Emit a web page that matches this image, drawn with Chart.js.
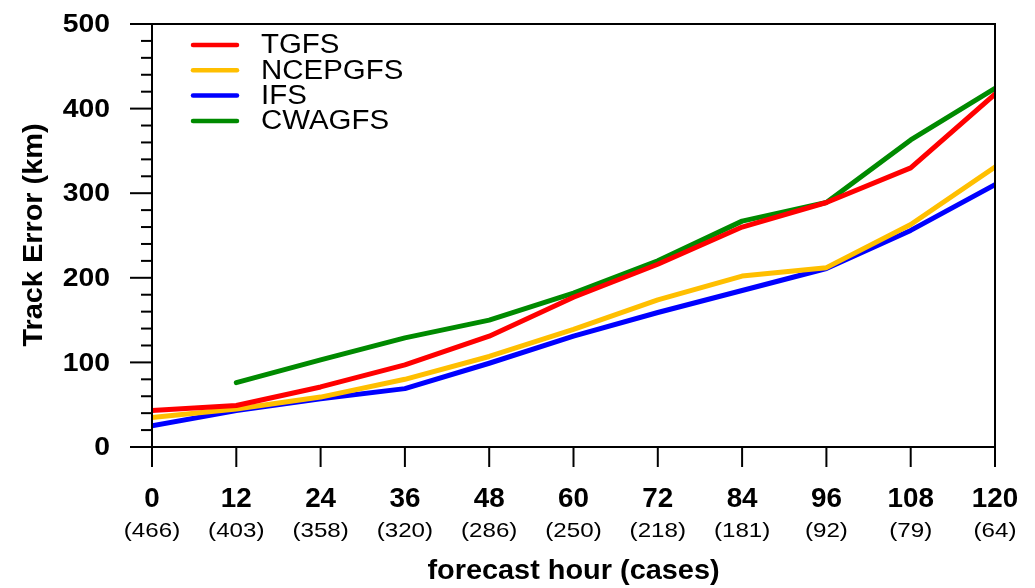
<!DOCTYPE html>
<html>
<head>
<meta charset="utf-8">
<script src="https://cdn.jsdelivr.net/npm/chart.js@4/dist/chart.umd.min.js"></script>
<style>
  html, body { margin: 0; padding: 0; background: #ffffff; }
  canvas { display: block; }
</style>
</head>
<body>
<canvas id="chart" width="1035" height="588"></canvas>
<script>
// Forecast lead times (hours) and number of verified cases at each
const hours = [0, 12, 24, 36, 48, 60, 72, 84, 96, 108, 120];
const cases = [466, 403, 358, 320, 286, 250, 218, 181, 92, 79, 64];

// Mean track error (km) per model
const tgfs    = [43, 49, 71, 97, 131, 177, 216, 260, 289, 330, 417];
const ncepgfs = [35, 45, 59, 80, 107, 139, 174, 202, 212, 263, 331];
const ifs     = [25, 43, 57, 69, 99, 131, 159, 185, 211, 256, 310];
const cwagfs  = [null, 76, 103, 129, 150, 182, 220, 267, 289, 363, 424];

const yTicks = [0, 100, 200, 300, 400, 500];
const yMinorStep = 20;

const series = [
  { label: 'TGFS',    values: tgfs,    color: '#ff0000' },
  { label: 'NCEPGFS', values: ncepgfs, color: '#ffbf00' },
  { label: 'IFS',     values: ifs,     color: '#0000ff' },
  { label: 'CWAGFS',  values: cwagfs,  color: '#008a00' }
];

const FONT = '"Liberation Sans", Arial, Helvetica, sans-serif';

// Text with a slight horizontal stretch (wide Helvetica look)
function wideText(ctx, text, x, y, font, align, sx) {
  ctx.save();
  ctx.font = font;
  ctx.textAlign = align;
  ctx.translate(x, y);
  ctx.scale(sx, 1);
  ctx.fillText(text, 0, 0);
  ctx.restore();
}

// Axes, ticks, labels and legend drawn in the style of the plot frame
const framePlugin = {
  id: 'frame',
  afterDraw(chart) {
    const ctx = chart.ctx;
    const xs = chart.scales.x, ys = chart.scales.y;
    const L = chart.chartArea.left, R = chart.chartArea.right;
    const T = chart.chartArea.top, B = chart.chartArea.bottom;
    ctx.save();
    ctx.strokeStyle = '#000';
    ctx.fillStyle = '#000';
    ctx.lineWidth = 2;
    ctx.lineCap = 'butt';

    // box
    ctx.beginPath();
    ctx.rect(L, T, R - L, B - T);
    ctx.stroke();

    // y ticks (major outward 22px, minor 11px)
    for (let v = ys.min; v <= ys.max; v += yMinorStep) {
      const y = ys.getPixelForValue(v);
      const major = yTicks.includes(v);
      ctx.beginPath();
      ctx.moveTo(L - (major ? 22 : 11), y);
      ctx.lineTo(L, y);
      ctx.stroke();
    }
    ctx.textBaseline = 'middle';
    yTicks.forEach(v => {
      wideText(ctx, String(v), 110, ys.getPixelForValue(v) + 1, 'bold 26px ' + FONT, 'right', 1.09);
    });

    // x ticks and two-line labels
    hours.forEach((h, i) => {
      const x = xs.getPixelForValue(h);
      ctx.beginPath();
      ctx.moveTo(x, B);
      ctx.lineTo(x, B + 20);
      ctx.stroke();
      ctx.textBaseline = 'middle';
      wideText(ctx, String(h), x, 500, 'bold 27px ' + FONT, 'center', 1.03);
      wideText(ctx, '(' + cases[i] + ')', x, 531, '21px ' + FONT, 'center', 1.15);
    });

    // axis titles
    ctx.textBaseline = 'alphabetic';
    wideText(ctx, 'forecast hour (cases)', (L + R) / 2, 579, 'bold 27px ' + FONT, 'center', 1.07);
    ctx.save();
    ctx.translate(42, 235);
    ctx.rotate(-Math.PI / 2);
    wideText(ctx, 'Track Error (km)', 0, 0, 'bold 27px ' + FONT, 'center', 1.07);
    ctx.restore();

    // legend
    ctx.textBaseline = 'middle';
    chart.data.datasets.forEach((ds, i) => {
      const y = 45 + i * 25.3;
      ctx.strokeStyle = ds.borderColor;
      ctx.lineWidth = 4.5;
      ctx.lineCap = 'round';
      ctx.beginPath();
      ctx.moveTo(193, y);
      ctx.lineTo(237, y);
      ctx.stroke();
      ctx.fillStyle = '#000';
      wideText(ctx, ds.label, 261, y + 1, '27px ' + FONT, 'left', 1.09);
    });
    ctx.restore();
  }
};

new Chart(document.getElementById('chart'), {
  type: 'line',
  data: {
    datasets: series.map(s => ({
      label: s.label,
      data: hours.map((h, i) => ({ x: h, y: s.values[i] })),
      borderColor: s.color,
      backgroundColor: s.color,
      borderWidth: 5,
      pointRadius: 0,
      tension: 0,
      spanGaps: false,
      borderJoinStyle: 'round',
      borderCapStyle: 'round'
    }))
  },
  options: {
    responsive: false,
    animation: false,
    layout: { padding: { left: 152, right: 40, top: 24, bottom: 141 } },
    plugins: { legend: { display: false }, tooltip: { enabled: false } },
    scales: {
      x: { type: 'linear', min: 0, max: 120, display: false },
      y: { type: 'linear', min: 0, max: 500, display: false }
    }
  },
  plugins: [framePlugin]
});
</script>
</body>
</html>
